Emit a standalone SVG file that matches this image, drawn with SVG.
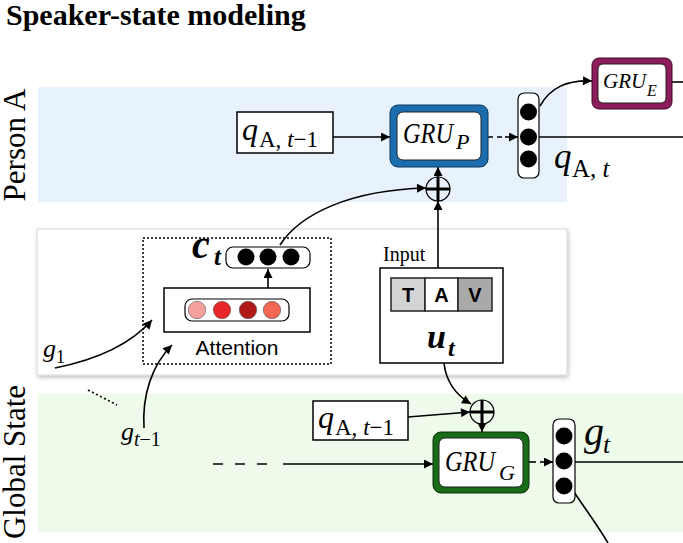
<svg xmlns="http://www.w3.org/2000/svg" width="683" height="543" viewBox="0 0 683 543">
<defs>
<marker id="ah" viewBox="0 0 10 10" refX="10" refY="5" markerWidth="11" markerHeight="9" markerUnits="userSpaceOnUse" orient="auto"><path d="M0,0 L10,5 L0,10 z" fill="#000"/></marker>
<filter id="sh" x="-5%" y="-5%" width="110%" height="115%"><feDropShadow dx="1" dy="2" stdDeviation="2" flood-color="#000" flood-opacity="0.25"/></filter>
</defs>
<style>
.serif{font-family:"Liberation Serif","Times New Roman",serif;fill:#000}
.it{font-style:italic}
.bi{font-style:italic;font-weight:bold}
.sans{font-family:"Liberation Sans",Arial,sans-serif;fill:#000}
.ln{fill:none;stroke:#000;stroke-width:1.6}
.arr{fill:none;stroke:#000;stroke-width:1.6;marker-end:url(#ah)}
.box{fill:#fff;stroke:#000;stroke-width:1.5}
.vec{fill:#fff;stroke:#000;stroke-width:1.2}
.dot{fill:#000}
.inner{fill:#fff;stroke:#222;stroke-width:1}
.plus{fill:none;stroke:#000;stroke-width:1.2}
.pbar{stroke:#000;stroke-width:3}
</style>
<rect width="683" height="543" fill="#fff"/>
<text class="serif" x="6" y="25" font-size="30" font-weight="bold">Speaker-state modeling</text>
<!-- bands -->
<rect id="band-a" x="38" y="87" width="529" height="115" fill="#e8f2fc"/>
<rect id="band-g" x="38" y="394" width="645" height="138" fill="#effbea"/>
<text class="serif" font-size="31" transform="translate(25,145) rotate(-90)" text-anchor="middle">Person A</text>
<text class="serif" font-size="31" transform="translate(25,462) rotate(-90)" text-anchor="middle">Global State</text>
<!-- panel -->
<rect id="panel" x="37" y="229" width="530" height="146" fill="#fff" stroke="#d8d8d8" stroke-width="1" filter="url(#sh)"/>

<g id="connectors">
<line class="arr" x1="333" y1="137" x2="390" y2="137"/>
<line class="ln" x1="488" y1="137" x2="506" y2="137" stroke-dasharray="5,4"/>
<line class="arr" x1="505" y1="137" x2="518" y2="137"/>
<line class="ln" x1="539" y1="137" x2="683" y2="137"/>
<path class="arr" d="M540,106 C550,88 566,80 592,81"/>
<line class="ln" x1="672" y1="82" x2="683" y2="82"/>
<line class="arr" x1="438" y1="177" x2="438" y2="167"/>
<line class="arr" x1="438" y1="268" x2="438" y2="201"/>
<path class="arr" d="M280,245 C300,214 350,190 426,188"/>
<line class="arr" x1="268" y1="288" x2="268" y2="269"/>
<path class="arr" d="M55,368 C95,360 130,345 152,320"/>
<path class="arr" d="M144,428 C142,395 152,365 172,345"/>
<line class="ln" x1="88" y1="390" x2="117" y2="405" stroke-dasharray="2,2.5" stroke-width="1.5"/>
<line class="arr" x1="442" y1="331" x2="442" y2="311"/>
<path class="arr" d="M444,363 C446,382 456,395 471,404"/>
<line class="arr" x1="408" y1="417" x2="470" y2="412"/>
<line class="arr" x1="482" y1="424" x2="482" y2="432"/>
<line class="ln" x1="213" y1="464" x2="270" y2="464" stroke-dasharray="10,12"/>
<line class="arr" x1="283" y1="464" x2="433" y2="464"/>
<line class="ln" x1="529" y1="462" x2="536" y2="462"/>
<line class="arr" x1="540" y1="462" x2="553" y2="462"/>
<line class="ln" x1="575" y1="462" x2="683" y2="462"/>
<path class="ln" d="M574,492 C586,510 598,526 608,543"/>
</g>

<g id="q-prev-a">
<rect class="box" x="237" y="112" width="96" height="41"/>
<text class="serif it" x="242" y="140" font-size="32">q</text>
<text class="serif" x="259" y="147" font-size="23">A, <tspan class="it">t</tspan>−1</text>
</g>

<g id="gru-p">
<rect x="390" y="105" width="98" height="62" rx="8" fill="#1b6db0" stroke="#0d3558" stroke-width="1"/>
<rect class="inner" x="397" y="112" width="84" height="48" rx="6"/>
<text class="serif it" x="403" y="143" font-size="29" textLength="50" lengthAdjust="spacingAndGlyphs">GRU</text>
<text class="serif it" x="456" y="149" font-size="22">P</text>
</g>

<g id="vec-qa">
<rect class="vec" x="518" y="93" width="21" height="85" rx="6"/>
<circle class="dot" cx="528.5" cy="112" r="8.5"/>
<circle class="dot" cx="528.5" cy="137" r="8.5"/>
<circle class="dot" cx="528.5" cy="159" r="8.5"/>
</g>
<g id="label-qat">
<text class="serif it" x="554" y="168" font-size="35">q</text>
<text class="serif" x="572" y="177" font-size="25">A, <tspan class="it">t</tspan></text>
</g>

<g id="gru-e">
<rect x="592" y="58" width="80" height="51" rx="7" fill="#8c1c5b" stroke="#3a0b25" stroke-width="1"/>
<rect class="inner" x="598" y="64" width="68" height="39" rx="5"/>
<text class="serif it" x="603" y="88" font-size="21">GRU</text>
<text class="serif it" x="647" y="96" font-size="16">E</text>
</g>

<g id="plus-a">
<circle class="plus" cx="438" cy="189" r="12" fill="none"/>
<line class="pbar" x1="426" y1="189" x2="450" y2="189"/>
<line class="pbar" x1="438" y1="177" x2="438" y2="201"/>
</g>

<g id="attention">
<rect x="143" y="238" width="188" height="126" fill="none" stroke="#000" stroke-width="1.5" stroke-dasharray="2,2"/>
<rect class="box" x="164" y="288" width="146" height="44" stroke-width="1.2"/>
<rect class="vec" x="185" y="299" width="104" height="22" rx="7"/>
<circle cx="197" cy="310" r="8.7" fill="#f6a09e" stroke="#555" stroke-width="0.6"/>
<circle cx="222" cy="310" r="8.7" fill="#e8262a" stroke="#555" stroke-width="0.6"/>
<circle cx="248" cy="310" r="8.7" fill="#b01a19" stroke="#555" stroke-width="0.6"/>
<circle cx="272" cy="310" r="8.7" fill="#f46656" stroke="#555" stroke-width="0.6"/>
<text class="sans" x="237" y="355" font-size="21" text-anchor="middle">Attention</text>
</g>

<g id="ct">
<rect class="vec" x="226" y="247" width="84" height="21" rx="7"/>
<circle class="dot" cx="246" cy="257" r="8.5"/>
<circle class="dot" cx="268" cy="257" r="8.5"/>
<circle class="dot" cx="291" cy="257" r="8.5"/>
<text class="serif bi" x="192" y="258" font-size="40">c</text>
<text class="serif bi" x="214" y="265" font-size="25">t</text>
</g>

<g id="input">
<text class="serif" x="383" y="261" font-size="20">Input</text>
<rect class="box" x="380" y="268" width="123" height="95" stroke-width="1.2"/>
<rect x="391" y="278" width="34" height="33" fill="#d4d4d4" stroke="#222" stroke-width="1.5"/>
<rect x="425" y="278" width="33" height="33" fill="#fff" stroke="#222" stroke-width="1.5"/>
<rect x="458" y="278" width="34" height="33" fill="#a9a9a9" stroke="#222" stroke-width="1.5"/>
<text class="sans" x="408" y="302" font-size="20" font-weight="bold" text-anchor="middle">T</text>
<text class="sans" x="441.5" y="302" font-size="20" font-weight="bold" text-anchor="middle">A</text>
<text class="sans" x="475" y="302" font-size="20" font-weight="bold" text-anchor="middle">V</text>
<text class="serif bi" x="427" y="348" font-size="34">u</text>
<text class="serif bi" x="448" y="356" font-size="24">t</text>
</g>

<g id="g1">
<text class="serif it" x="43" y="357" font-size="26">g</text>
<text class="serif" x="56" y="363" font-size="18">1</text>
</g>
<g id="gt1">
<text class="serif it" x="121" y="440" font-size="26">g</text>
<text class="serif" x="134" y="446" font-size="20"><tspan class="it">t</tspan>−1</text>
</g>

<g id="q-prev-g">
<rect class="box" x="313" y="401" width="95" height="39"/>
<text class="serif it" x="318" y="428" font-size="32">q</text>
<text class="serif" x="335" y="435" font-size="23">A, <tspan class="it">t</tspan>−1</text>
</g>

<g id="plus-g">
<circle class="plus" cx="482" cy="412" r="12" fill="none"/>
<line class="pbar" x1="470" y1="412" x2="494" y2="412"/>
<line class="pbar" x1="482" y1="400" x2="482" y2="424"/>
</g>

<g id="gru-g">
<rect x="433" y="432" width="96" height="61" rx="8" fill="#186b17" stroke="#0a300a" stroke-width="1"/>
<rect class="inner" x="439" y="438" width="84" height="49" rx="6"/>
<text class="serif it" x="445" y="471" font-size="29" textLength="50" lengthAdjust="spacingAndGlyphs">GRU</text>
<text class="serif it" x="499" y="480" font-size="22">G</text>
</g>

<g id="vec-g">
<rect class="vec" x="553" y="419" width="22" height="84" rx="6"/>
<circle class="dot" cx="564" cy="436" r="8.5"/>
<circle class="dot" cx="564" cy="461" r="8.5"/>
<circle class="dot" cx="564" cy="486" r="8.5"/>
</g>
<g id="label-gt">
<text class="serif it" x="584" y="445" font-size="40">g</text>
<text class="serif it" x="603" y="453" font-size="26">t</text>
</g>
<text class="serif it" x="570" y="556" font-size="26">g</text>
</svg>
